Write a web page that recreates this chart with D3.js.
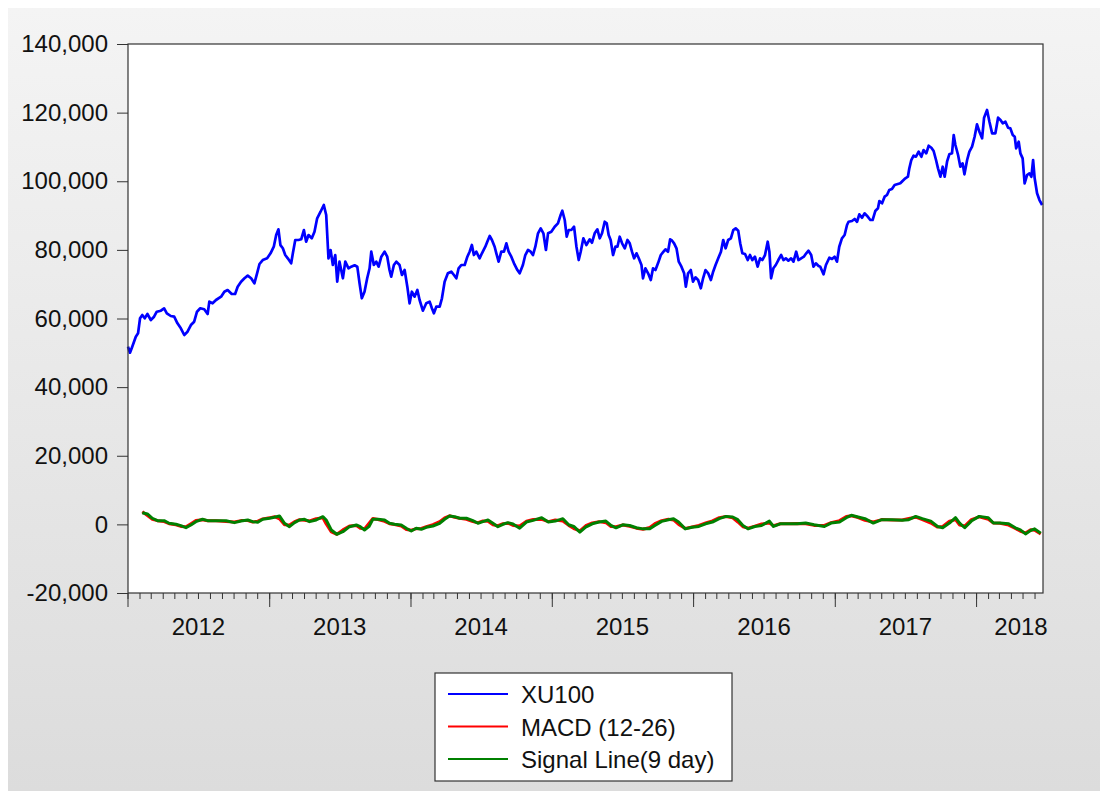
<!DOCTYPE html>
<html>
<head>
<meta charset="utf-8">
<script src="https://cdn.jsdelivr.net/npm/d3@7"></script>
<style>
	html, body { margin: 0; padding: 0; background: #fff; }
	svg { display: block; font-family: "Liberation Sans", Arial, sans-serif; }
</style>
</head>
<body>
<script>
// XU100 close, [decimal year, value]
const xu100 = [
	[2012.000, 51800], [2012.014, 50030], [2012.030, 51780], [2012.055, 54700], [2012.071, 55690], [2012.085, 60060],
	[2012.101, 61020], [2012.118, 60060], [2012.137, 61310], [2012.161, 59560], [2012.184, 60530], [2012.203, 61980],
	[2012.232, 62270], [2012.255, 62970], [2012.274, 61510], [2012.302, 60730], [2012.326, 60530], [2012.349, 58600],
	[2012.373, 57140], [2012.397, 55190], [2012.420, 56150], [2012.444, 58100], [2012.467, 59070], [2012.487, 61980],
	[2012.510, 62970], [2012.538, 62680], [2012.562, 61310], [2012.574, 64900], [2012.597, 64430], [2012.621, 65390],
	[2012.657, 66350], [2012.680, 67810], [2012.703, 68300], [2012.732, 67140], [2012.756, 67140], [2012.774, 69270],
	[2012.798, 70730], [2012.822, 71720], [2012.845, 72480], [2012.869, 71720], [2012.892, 70260], [2012.911, 73170],
	[2012.928, 75880], [2012.951, 77040], [2012.982, 77540], [2013.006, 79000], [2013.029, 80920], [2013.046, 84330],
	[2013.062, 85990], [2013.076, 81400], [2013.093, 80460], [2013.110, 78500], [2013.128, 77540], [2013.152, 76080],
	[2013.164, 79000], [2013.181, 82880], [2013.204, 82880], [2013.223, 83080], [2013.242, 85790], [2013.258, 82380],
	[2013.275, 84330], [2013.298, 83370], [2013.317, 85290], [2013.336, 89200], [2013.360, 91120], [2013.383, 93080],
	[2013.400, 90160], [2013.416, 77540], [2013.431, 79960], [2013.447, 75590], [2013.464, 78500], [2013.478, 70730],
	[2013.494, 76560], [2013.518, 71720], [2013.535, 76560], [2013.558, 74630], [2013.577, 75100], [2013.601, 75500],
	[2013.620, 75100], [2013.636, 70260], [2013.652, 65890], [2013.671, 67810], [2013.690, 71720], [2013.707, 74630],
	[2013.719, 79470], [2013.737, 75590], [2013.754, 76560], [2013.771, 75100], [2013.790, 78010], [2013.813, 79470],
	[2013.832, 78010], [2013.848, 74130], [2013.860, 72180], [2013.879, 75590], [2013.896, 76560], [2013.919, 75590],
	[2013.936, 72680], [2013.955, 74130], [2013.974, 69270], [2013.990, 64430], [2014.006, 67810], [2014.025, 66350],
	[2014.045, 68300], [2014.061, 65390], [2014.084, 62270], [2014.108, 64430], [2014.132, 64900], [2014.148, 62970],
	[2014.162, 61510], [2014.179, 63440], [2014.203, 63440], [2014.219, 65890], [2014.238, 70730], [2014.261, 73170],
	[2014.285, 73640], [2014.304, 72680], [2014.321, 71720], [2014.337, 74630], [2014.356, 75590], [2014.380, 75590],
	[2014.399, 78010], [2014.415, 79470], [2014.431, 81420], [2014.445, 78500], [2014.462, 79470], [2014.486, 77540],
	[2014.502, 79000], [2014.526, 80920], [2014.540, 82380], [2014.557, 84040], [2014.573, 82880], [2014.592, 80920],
	[2014.604, 79000], [2014.620, 76560], [2014.639, 79470], [2014.658, 79470], [2014.675, 81910], [2014.691, 79470],
	[2014.710, 78010], [2014.729, 76080], [2014.753, 74130], [2014.769, 73170], [2014.792, 75590], [2014.809, 78500],
	[2014.828, 79960], [2014.847, 79470], [2014.863, 78500], [2014.880, 80920], [2014.899, 84830], [2014.918, 86280],
	[2014.937, 84830], [2014.955, 79960], [2014.970, 84830], [2014.993, 85290], [2015.017, 86750], [2015.040, 87740],
	[2015.059, 90160], [2015.071, 91410], [2015.088, 88700], [2015.102, 83840], [2015.116, 85790], [2015.135, 85790],
	[2015.154, 86750], [2015.171, 80920], [2015.187, 77040], [2015.201, 79470], [2015.220, 83370], [2015.241, 81420],
	[2015.265, 83080], [2015.281, 82090], [2015.300, 84830], [2015.319, 85990], [2015.336, 83370], [2015.352, 84830],
	[2015.371, 88200], [2015.385, 87740], [2015.399, 84330], [2015.413, 82880], [2015.430, 78500], [2015.447, 80920],
	[2015.461, 80920], [2015.477, 83840], [2015.494, 81910], [2015.513, 80460], [2015.532, 82880], [2015.548, 81910],
	[2015.564, 79470], [2015.579, 77540], [2015.596, 79000], [2015.612, 77540], [2015.631, 75590], [2015.642, 71720],
	[2015.659, 74630], [2015.678, 73170], [2015.697, 71220], [2015.713, 74630], [2015.730, 74130], [2015.748, 76080],
	[2015.768, 78500], [2015.787, 79470], [2015.801, 80160], [2015.819, 79470], [2015.834, 83080], [2015.848, 82670],
	[2015.862, 81910], [2015.879, 80460], [2015.895, 76560], [2015.914, 75100], [2015.933, 73170], [2015.945, 69270],
	[2015.961, 73170], [2015.980, 74130], [2015.996, 70730], [2016.013, 72000], [2016.032, 71220], [2016.051, 68800],
	[2016.067, 71720], [2016.084, 74130], [2016.103, 73170], [2016.122, 71220], [2016.138, 73640], [2016.155, 75590],
	[2016.174, 77540], [2016.193, 79470], [2016.209, 82880], [2016.226, 80460], [2016.244, 82880], [2016.263, 83370],
	[2016.280, 85790], [2016.297, 86280], [2016.315, 85590], [2016.329, 81910], [2016.344, 79000], [2016.363, 78800],
	[2016.382, 77040], [2016.398, 78500], [2016.414, 77040], [2016.433, 78010], [2016.452, 75100], [2016.469, 77540],
	[2016.485, 77040], [2016.504, 78500], [2016.523, 82380], [2016.535, 79470], [2016.547, 71720], [2016.563, 74630],
	[2016.580, 75590], [2016.598, 77040], [2016.618, 78500], [2016.634, 77040], [2016.651, 77540], [2016.669, 76850],
	[2016.688, 77540], [2016.705, 76560], [2016.724, 79470], [2016.740, 77040], [2016.759, 77540], [2016.778, 78010],
	[2016.795, 79000], [2016.811, 79760], [2016.830, 78500], [2016.846, 75100], [2016.863, 76080], [2016.882, 75300],
	[2016.894, 75100], [2016.917, 72880], [2016.934, 75590], [2016.958, 77720], [2016.977, 77340], [2016.995, 78010],
	[2017.012, 76560], [2017.028, 80920], [2017.047, 83370], [2017.066, 84330], [2017.083, 87250], [2017.094, 88200],
	[2017.118, 88410], [2017.137, 89000], [2017.154, 88200], [2017.170, 90360], [2017.189, 89370], [2017.207, 90650],
	[2017.224, 89960], [2017.248, 88700], [2017.264, 88700], [2017.283, 91320], [2017.302, 92110], [2017.312, 94240],
	[2017.331, 93570], [2017.349, 95500], [2017.366, 96000], [2017.382, 97450], [2017.401, 97740], [2017.420, 98900],
	[2017.437, 99110], [2017.460, 99400], [2017.476, 100070], [2017.496, 100850], [2017.514, 101320], [2017.524, 103770],
	[2017.538, 106190], [2017.554, 107440], [2017.571, 107150], [2017.590, 108610], [2017.609, 107150], [2017.625, 109100],
	[2017.644, 108140], [2017.661, 110350], [2017.680, 109770], [2017.696, 108810], [2017.713, 106190], [2017.727, 103770],
	[2017.744, 101320], [2017.760, 104240], [2017.774, 101320], [2017.791, 105700], [2017.807, 107850], [2017.826, 108140],
	[2017.838, 113470], [2017.850, 110560], [2017.869, 107650], [2017.885, 104240], [2017.901, 105230], [2017.914, 102020],
	[2017.933, 106190], [2017.949, 108610], [2017.968, 110070], [2017.986, 112980], [2018.003, 116590], [2018.020, 114430],
	[2018.039, 112520], [2018.053, 118520], [2018.074, 120760], [2018.091, 117350], [2018.110, 113960], [2018.133, 113960],
	[2018.152, 118520], [2018.169, 117840], [2018.185, 116880], [2018.204, 117350], [2018.223, 115600], [2018.239, 115420],
	[2018.256, 113470], [2018.270, 112980], [2018.280, 109600], [2018.298, 111520], [2018.310, 108140], [2018.326, 106680],
	[2018.340, 99400], [2018.357, 101820], [2018.374, 102310], [2018.388, 101320], [2018.400, 106190], [2018.411, 100850],
	[2018.428, 96480], [2018.445, 94530], [2018.464, 93080],
]

// MACD (12-26), [decimal year, value]
const macd = [
	[2012.101, 3700], [2012.137, 2600], [2012.172, 1500], [2012.208, 1080], [2012.255, 800], [2012.290, 200],
	[2012.338, -100], [2012.373, -600], [2012.409, -700], [2012.444, 200], [2012.479, 1100], [2012.526, 1350],
	[2012.562, 1080], [2012.621, 1080], [2012.692, 850], [2012.751, 700], [2012.798, 1100], [2012.845, 1100],
	[2012.880, 700], [2012.916, 950], [2012.951, 1600], [2012.999, 1900], [2013.034, 2250], [2013.069, 1600],
	[2013.105, -100], [2013.140, -200], [2013.176, 800], [2013.211, 1350], [2013.246, 1200], [2013.282, 1000],
	[2013.329, 1650], [2013.376, 1900], [2013.400, 100], [2013.436, -2200], [2013.475, -2900], [2013.518, -1600],
	[2013.565, -450], [2013.613, -350], [2013.641, -1100], [2013.671, -1300], [2013.702, 300], [2013.730, 1700],
	[2013.766, 1400], [2013.813, 900], [2013.848, 200], [2013.884, -50], [2013.931, -500], [2013.967, -1500],
	[2014.002, -1700], [2014.037, -1250], [2014.073, -1200], [2014.108, -700], [2014.155, -100], [2014.203, 800],
	[2014.238, 1900], [2014.273, 2500], [2014.309, 2050], [2014.344, 1780], [2014.392, 1500], [2014.438, 800],
	[2014.474, 500], [2014.509, 1000], [2014.545, 900], [2014.580, -100], [2014.615, -400], [2014.651, 200],
	[2014.686, 350], [2014.722, -300], [2014.769, -500], [2014.817, 900], [2014.865, 1450], [2014.925, 1500],
	[2014.972, 800], [2015.021, 1250], [2015.075, 1000], [2015.116, -300], [2015.152, -1200], [2015.195, -1900],
	[2015.236, -400], [2015.283, 400], [2015.331, 800], [2015.379, 500], [2015.415, -600], [2015.451, -700],
	[2015.499, -200], [2015.547, -550], [2015.595, -1100], [2015.642, -1400], [2015.690, -900], [2015.726, 200],
	[2015.774, 1100], [2015.822, 1500], [2015.858, 1300], [2015.894, 0], [2015.941, -1200], [2015.989, -750],
	[2016.037, -300], [2016.085, 400], [2016.133, 1000], [2016.181, 1950], [2016.229, 2300], [2016.276, 1900],
	[2016.312, 700], [2016.348, -700], [2016.384, -1100], [2016.432, -500], [2016.480, 100], [2016.535, 400],
	[2016.564, -400], [2016.611, 170], [2016.671, 170], [2016.731, 250], [2016.791, 200], [2016.851, -300],
	[2016.923, -300], [2016.970, 500], [2017.030, 1100], [2017.078, 2300], [2017.114, 2500], [2017.161, 2000],
	[2017.210, 1200], [2017.269, 700], [2017.329, 1400], [2017.401, 1300], [2017.473, 1250], [2017.520, 1700],
	[2017.569, 2100], [2017.616, 1400], [2017.676, 400], [2017.724, -800], [2017.760, -600], [2017.808, 900],
	[2017.851, 1400], [2017.880, -200], [2017.916, -500], [2017.963, 1400], [2018.018, 2200], [2018.083, 1500],
	[2018.119, 380], [2018.166, 300], [2018.227, -200], [2018.274, -1200], [2018.310, -2000], [2018.346, -2500],
	[2018.382, -1600], [2018.411, -1700], [2018.454, -2800],
]

// Signal line (9 day EMA of MACD), [decimal year, value]
const signal = [
	[2012.101, 3410], [2012.137, 3030], [2012.172, 1780], [2012.208, 1080], [2012.255, 1080], [2012.290, 320],
	[2012.338, 30], [2012.373, -380], [2012.409, -960], [2012.444, -170], [2012.479, 790], [2012.526, 1490],
	[2012.562, 1080], [2012.621, 1080], [2012.692, 1080], [2012.751, 500], [2012.798, 990], [2012.845, 1280],
	[2012.880, 790], [2012.916, 610], [2012.951, 1490], [2012.999, 1780], [2013.034, 2070], [2013.069, 2450],
	[2013.105, 320], [2013.140, -670], [2013.176, 500], [2013.211, 1280], [2013.246, 1490], [2013.282, 790],
	[2013.329, 1280], [2013.376, 2240], [2013.400, 1280], [2013.436, -1630], [2013.475, -2880], [2013.518, -2130],
	[2013.565, -670], [2013.613, -170], [2013.641, -670], [2013.671, -1630], [2013.702, -670], [2013.730, 1490],
	[2013.766, 1490], [2013.813, 1280], [2013.848, 320], [2013.884, 30], [2013.931, -170], [2013.967, -1140],
	[2014.002, -1920], [2014.037, -1140], [2014.073, -1430], [2014.108, -850], [2014.155, -470], [2014.203, 320],
	[2014.238, 1490], [2014.273, 2450], [2014.309, 2240], [2014.344, 1780], [2014.392, 1780], [2014.438, 1080],
	[2014.474, 320], [2014.509, 790], [2014.545, 1280], [2014.580, 320], [2014.615, -670], [2014.651, 30],
	[2014.686, 500], [2014.722, 120], [2014.769, -1100], [2014.817, 670], [2014.865, 1170], [2014.925, 1950],
	[2014.972, 670], [2015.021, 960], [2015.075, 1660], [2015.116, -120], [2015.152, -610], [2015.195, -2270],
	[2015.236, -820], [2015.283, 170], [2015.331, 670], [2015.379, 960], [2015.415, -320], [2015.451, -990],
	[2015.499, -120], [2015.547, -320], [2015.595, -990], [2015.642, -1310], [2015.690, -1310], [2015.726, -320],
	[2015.774, 870], [2015.822, 1370], [2015.858, 1660], [2015.894, 670], [2015.941, -1310], [2015.989, -820],
	[2016.037, -610], [2016.085, 170], [2016.133, 670], [2016.181, 1660], [2016.229, 2330], [2016.276, 2160],
	[2016.312, 1370], [2016.348, -320], [2016.384, -1310], [2016.432, -610], [2016.480, -320], [2016.535, 960],
	[2016.564, -610], [2016.611, 170], [2016.671, 170], [2016.731, 170], [2016.791, 380], [2016.851, -120],
	[2016.923, -610], [2016.970, 380], [2017.030, 670], [2017.078, 1950], [2017.114, 2650], [2017.161, 2160],
	[2017.210, 1660], [2017.269, 380], [2017.329, 1370], [2017.401, 1370], [2017.473, 1170], [2017.520, 1370],
	[2017.569, 2330], [2017.616, 1660], [2017.676, 960], [2017.724, -610], [2017.760, -990], [2017.808, 380],
	[2017.851, 1950], [2017.880, 380], [2017.916, -990], [2017.963, 960], [2018.018, 2330], [2018.083, 1950],
	[2018.119, 380], [2018.166, 380], [2018.227, 170], [2018.274, -990], [2018.310, -1600], [2018.346, -2770],
	[2018.382, -1780], [2018.411, -1310], [2018.454, -2590],
]

const yTicks = [-20000, 0, 20000, 40000, 60000, 80000, 100000, 120000, 140000]
const years = [2012, 2013, 2014, 2015, 2016, 2017, 2018]
const xStart = 2012.0
const xEnd = 2018.47
const seriesNames = ['XU100', 'MACD (12-26)', 'Signal Line(9 day)']
const seriesColors = ['#0000ff', '#ff0000', '#008000']

// decimal year -> Date
const toDate = t => {
	const y = Math.floor(t)
	const a = new Date(y, 0, 1), b = new Date(y + 1, 0, 1)
	return new Date(+a + (t - y) * (b - a))
}

const W = 1100, H = 791
const plot = { left: 128, right: 1043, top: 44, bottom: 593 }
const font = 24

const svg = d3.select('body').append('svg').attr('width', W).attr('height', H)

const defs = svg.append('defs')
const grad = defs.append('linearGradient').attr('id', 'bg').attr('x1', 0).attr('y1', 0).attr('x2', 0).attr('y2', 1)
grad.append('stop').attr('offset', 0).attr('stop-color', '#f4f4f4')
grad.append('stop').attr('offset', 1).attr('stop-color', '#dcdcdc')
svg.append('rect').attr('x', 8).attr('y', 8).attr('width', W - 8).attr('height', H - 8).attr('fill', 'url(#bg)')

const x = d3.scaleTime().domain([toDate(xStart), toDate(xEnd)]).range([plot.left, plot.right])
const y = d3.scaleLinear().domain([-20000, 140000]).range([plot.bottom, plot.top])

svg.append('rect')
	.attr('x', plot.left).attr('y', plot.top)
	.attr('width', plot.right - plot.left).attr('height', plot.bottom - plot.top)
	.attr('fill', '#fff')

// y axis
const fmt = v => d3.format(',')(v).replace('\u2212', '-')
const yAxis = svg.append('g').attr('transform', `translate(${plot.left},0)`)
	.call(d3.axisLeft(y).tickValues(yTicks).tickFormat(fmt).tickSize(11).tickPadding(9))
yAxis.select('.domain').remove()
yAxis.selectAll('line').attr('stroke', '#333')
yAxis.selectAll('text').attr('font-size', font).attr('fill', '#111').attr('font-family', null)

// x axis: monthly minor ticks, yearly major ticks
const gx = svg.append('g').attr('transform', `translate(0,${plot.bottom})`)
gx.selectAll('line.minor').data(d3.timeMonth.range(toDate(xStart), toDate(xEnd))).join('line').classed('minor', true)
	.attr('x1', d => x(d)).attr('x2', d => x(d))
	.attr('y1', 0).attr('y2', 6)
	.attr('stroke', '#333')
gx.selectAll('line.major').data(years).join('line').classed('major', true)
	.attr('x1', d => x(new Date(d, 0, 1))).attr('x2', d => x(new Date(d, 0, 1)))
	.attr('y1', 0).attr('y2', 14)
	.attr('stroke', '#333')
gx.selectAll('text').data(years).join('text')
	.attr('x', d => Math.min(x(new Date(d, 6, 1)), plot.right - 22))
	.attr('y', 42)
	.attr('text-anchor', 'middle')
	.attr('font-size', font)
	.attr('fill', '#111')
	.text(d => d)

// series
const line = d3.line().x(d => x(toDate(d[0]))).y(d => y(d[1]))
const g = svg.append('g')
g.append('path').datum(xu100).attr('d', line)
	.attr('fill', 'none').attr('stroke', seriesColors[0]).attr('stroke-width', 2.7).attr('stroke-linejoin', 'round')
g.append('path').datum(macd).attr('d', line)
	.attr('fill', 'none').attr('stroke', seriesColors[1]).attr('stroke-width', 3).attr('stroke-linejoin', 'round')
g.append('path').datum(signal).attr('d', line)
	.attr('fill', 'none').attr('stroke', seriesColors[2]).attr('stroke-width', 3).attr('stroke-linejoin', 'round')

// frame
svg.append('rect')
	.attr('x', plot.left).attr('y', plot.top)
	.attr('width', plot.right - plot.left).attr('height', plot.bottom - plot.top)
	.attr('fill', 'none').attr('stroke', '#333').attr('stroke-width', 1.2)

// legend
const legend = svg.append('g').attr('transform', 'translate(435,673)')
legend.append('rect').attr('width', 297).attr('height', 108)
	.attr('fill', '#fff').attr('stroke', '#333').attr('stroke-width', 1.2)
const item = legend.selectAll('g').data(seriesNames).join('g')
	.attr('transform', (_, i) => `translate(0,${21 + i * 32.5})`)
item.append('line').attr('x1', 13).attr('x2', 73)
	.attr('stroke', (_, i) => seriesColors[i]).attr('stroke-width', 2)
item.append('text').attr('x', 86).attr('y', 9)
	.attr('font-size', font).attr('fill', '#111')
	.text(d => d)
</script>
</body>
</html>
